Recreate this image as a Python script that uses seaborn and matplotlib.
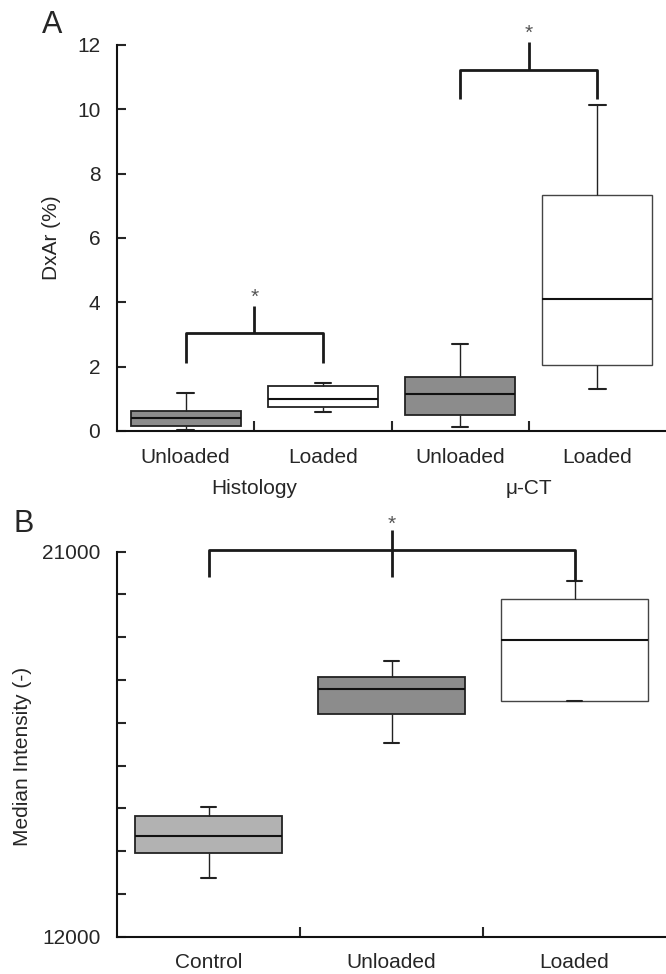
import numpy as np
import pandas as pd
import matplotlib.pyplot as plt
import matplotlib.transforms as mtransforms
import seaborn as sns

# five-number summaries: [min, q1, median, q3, max]
hist_unloaded = [0.03, 0.16, 0.41, 0.63, 1.19]
hist_loaded = [0.58, 0.74, 1.00, 1.41, 1.48]
ct_unloaded = [0.13, 0.49, 1.15, 1.69, 2.69]
ct_loaded = [1.30, 2.04, 4.09, 7.35, 10.14]

control_b = [13380, 13956, 14354, 14821, 15032]
unloaded_b = [16536, 17207, 17799, 18064, 18438]
loaded_b = [17503, 17503, 18945, 19888, 20324]

a_keys = ["hist_u", "hist_l", "ct_u", "ct_l"]
a_labels = ["Unloaded", "Loaded", "Unloaded", "Loaded"]
a_groups = ["Histology", "\u03bc-CT"]
a_colors = ["#8c8c8c", "#ffffff", "#8c8c8c", "#ffffff"]

b_keys = ["Control", "Unloaded", "Loaded"]
b_colors = ["#b2b2b2", "#8c8c8c", "#ffffff"]

sns.set_style("ticks")
plt.rcParams['font.family'] = ['Liberation Sans', 'DejaVu Sans']
plt.rcParams['axes.linewidth'] = 1.5

df_a = pd.DataFrame({
    "group": np.repeat(a_keys, 5),
    "value": hist_unloaded + hist_loaded + ct_unloaded + ct_loaded,
})
df_b = pd.DataFrame({
    "group": np.repeat(b_keys, 5),
    "value": control_b + unloaded_b + loaded_b,
})

fig = plt.figure(figsize=(6.66, 9.74), dpi=100)
ax_a = fig.add_axes([0.1757, 0.5575, 0.8243, 0.3963])
ax_b = fig.add_axes([0.1757, 0.0383, 0.8243, 0.3953])


def draw_boxes(ax, df, keys, colors, capw):
    sns.boxplot(data=df, x="group", y="value", hue="group", order=keys,
                hue_order=keys, palette=colors, legend=False, whis=(0, 100),
                width=0.8, linecolor="#222222", linewidth=1.3, ax=ax,
                capwidths=capw,
                medianprops=dict(color="#111111", linewidth=1.5),
                whiskerprops=dict(color="#222222", linewidth=1.0),
                capprops=dict(color="#222222", linewidth=1.5))
    # the big white box on the right has a lighter outline
    last = ax.patches[-1]
    last.set_edgecolor("#444444")
    last.set_linewidth(1.0)
    ax.set_xlim(-0.5, len(keys) - 0.5)
    ax.set_xlabel("")
    ax.set_xticks(np.arange(len(keys) - 1) + 0.5)
    ax.set_xticklabels([])
    ax.set_xticks(np.arange(len(keys)), minor=True)
    ax.tick_params(axis="x", which="major", direction="in", length=7, width=1.5)
    ax.tick_params(axis="x", which="minor", length=0, pad=12, labelsize=15)
    ax.tick_params(axis="y", direction="in", length=6.5, width=1.5, pad=12,
                   labelsize=15)
    sns.despine(ax=ax)
    ax.spines["left"].set_color("#111111")
    ax.spines["bottom"].set_color("#111111")


def bracket(ax, x0, x1, y_low0, y_low1, y_bar, xm, ym_low, ym_top, y_star):
    kw = dict(color="#1a1a1a", linewidth=2, clip_on=False, solid_capstyle="butt")
    ax.plot([x0, x0, x1, x1], [y_low0, y_bar, y_bar, y_low1], **kw)
    ax.plot([xm, xm], [ym_low, ym_top], **kw)
    ax.text(xm, y_star, "*", ha="center", va="center", fontsize=15,
            color="#555555", clip_on=False)


# panel A
draw_boxes(ax_a, df_a, a_keys, a_colors, 0.12)
ax_a.set_xticklabels(a_labels, minor=True)
ax_a.set_ylim(0, 12)
ax_a.set_yticks(np.arange(0, 13, 2))
ax_a.set_ylabel("DxAr (%)", fontsize=15)
ax_a.yaxis.set_label_coords(-0.102, 0.5)
trans = mtransforms.blended_transform_factory(ax_a.transData, ax_a.transAxes)
ax_a.text(0.5, -0.125, a_groups[0], transform=trans, ha="center", va="top",
          fontsize=15)
ax_a.text(2.5, -0.125, a_groups[1], transform=trans, ha="center", va="top",
          fontsize=15)
bracket(ax_a, 0, 1, 2.12, 2.12, 3.04, 0.5, 3.04, 3.89, 4.15)
bracket(ax_a, 2, 3, 10.33, 10.33, 11.21, 2.5, 11.21, 12.09, 12.35)

# panel B
draw_boxes(ax_b, df_b, b_keys, b_colors, 0.08)
ax_b.set_xticklabels(b_keys, minor=True)
ax_b.set_ylim(12000, 21000)
ax_b.set_yticks(np.arange(12000, 21001, 1000))
ax_b.set_yticklabels(["12000"] + [""] * 8 + ["21000"])
ax_b.set_ylabel("Median Intensity (-)", fontsize=15)
ax_b.yaxis.set_label_coords(-0.155, 0.467)
bracket(ax_b, 0, 2, 20400, 20324, 21040, 1, 20400, 21510, 21640)

fig.text(42 / 666, 1 - 33 / 974, "A", fontsize=22, ha="left", va="baseline")
fig.text(13 / 666, 1 - 532 / 974, "B", fontsize=22, ha="left", va="baseline")

plt.savefig("out.png", dpi=100)
plt.close()
